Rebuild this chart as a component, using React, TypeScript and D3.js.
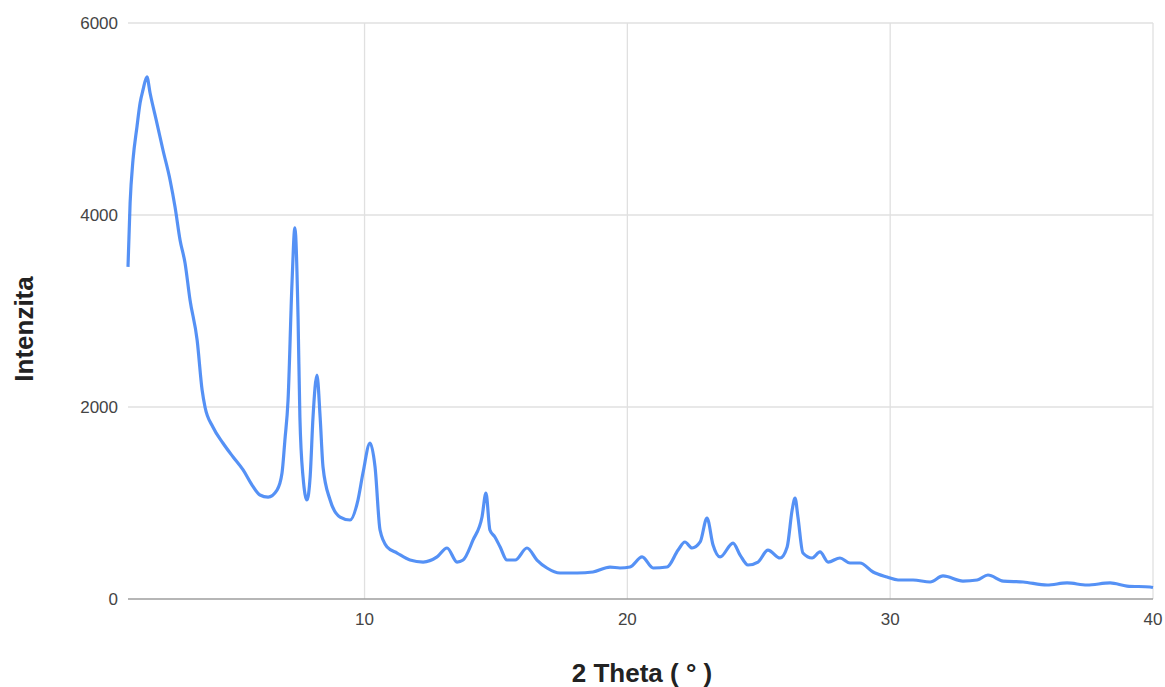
import React from "react";
import * as d3 from "d3";

// 2 Theta (degrees) and intensity
const theta = [
  1.0, 1.08, 1.19, 1.34, 1.46, 1.57, 1.72, 1.84, 2.1, 2.33, 2.6, 2.79, 2.98, 3.17, 3.36, 3.63,
  3.82, 3.93, 4.23, 4.61, 5.0, 5.38, 5.72, 6.02, 6.33, 6.67, 6.86, 6.97, 7.09, 7.24, 7.35, 7.47,
  7.54, 7.66, 7.81, 7.93, 8.04, 8.19, 8.31, 8.42, 8.69, 9.07, 9.45, 9.75, 9.94, 10.21, 10.4, 10.59,
  10.86, 11.24, 11.73, 12.23, 12.76, 13.14, 13.52, 13.75, 14.13, 14.47, 14.62, 14.77, 14.96, 15.16,
  15.42, 15.73, 16.18, 16.56, 16.94, 17.44, 18.09, 18.69, 19.34, 19.72, 20.1, 20.56, 20.98, 21.51,
  21.93, 22.19, 22.46, 22.77, 23.03, 23.26, 23.53, 24.02, 24.29, 24.59, 24.97, 25.35, 25.81, 26.08,
  26.27, 26.38, 26.49, 26.68, 27.03, 27.33, 27.64, 28.09, 28.47, 28.85, 29.35, 29.88, 30.3, 30.87,
  31.52, 32.01, 32.77, 33.31, 33.72, 34.3, 35.06, 35.97, 36.73, 37.49, 38.37, 39.01, 39.89, 40.0,
];
const intensity = [
  3460, 4125, 4573, 4917, 5167, 5302, 5440, 5271, 4958, 4677, 4365, 4083, 3740, 3500, 3115, 2698,
  2177, 2000, 1792, 1625, 1479, 1344, 1187, 1083, 1062, 1135, 1312, 1656, 2073, 3292, 3865, 2938,
  1896, 1271, 1031, 1271, 1896, 2333, 1896, 1375, 1031, 854, 823, 1031, 1312, 1625, 1375, 719,
  542, 479, 406, 385, 438, 531, 385, 406, 615, 854, 1104, 719, 646, 542,
  406, 406, 531, 406, 323, 271, 271, 281, 333, 323, 333, 438, 323, 333,
  510, 594, 531, 594, 844, 563, 438, 583, 458, 354, 385, 510, 427, 542,
  927, 1052, 854, 479, 427, 490, 385, 427, 375, 375, 281, 229, 198, 198,
  177, 240, 187, 198, 250, 187, 177, 146, 167, 146, 167, 135, 125, 120,
];
const yTicks = [0, 2000, 4000, 6000];
const xTicks = [10, 20, 30, 40];

const W = 1165;
const H = 687;
const left = 128;
const right = 1153;
const top = 23;
const bottom = 599;

export default function App() {
  const x = d3.scaleLinear().domain([1, 40]).range([left, right]);
  const y = d3.scaleLinear().domain([0, 6000]).range([bottom, top]);

  const pts: [number, number][] = theta.map((t, i) => [t, intensity[i]]);
  const line = d3
    .line<[number, number]>()
    .x((d) => x(d[0]))
    .y((d) => y(d[1]))
    .curve(d3.curveMonotoneX);

  const font = "'Liberation Sans', Arial, sans-serif";

  return (
    <svg
      width={W}
      height={H}
      style={{ position: "absolute", left: 0, top: 0, background: "#fff" }}
      fontFamily={font}
    >
      {/* grid */}
      <g>
        {yTicks
          .filter((t) => t > 0)
          .map((t) => (
            <line key={"gy" + t} x1={left} x2={right} y1={y(t)} y2={y(t)} stroke="#e0e0e0" strokeWidth={1.3} />
          ))}
        {xTicks.map((t) => (
          <line key={"gx" + t} x1={x(t)} x2={x(t)} y1={top} y2={bottom} stroke="#e0e0e0" strokeWidth={1.3} />
        ))}
      </g>

      {/* data */}
      <path d={line(pts) ?? ""} fill="none" stroke="#4285f4" strokeWidth={3.2} strokeLinejoin="round" opacity={0.9} />

      {/* baseline */}
      <line x1={left} x2={right} y1={y(0)} y2={y(0)} stroke="#9e9e9e" strokeWidth={1.6} />

      {/* y tick labels */}
      {yTicks.map((t) => (
        <text key={"ty" + t} x={118} y={y(t) + 6} textAnchor="end" fontSize={17} fill="#444">
          {t}
        </text>
      ))}

      {/* x tick labels */}
      {xTicks.map((t) => (
        <text key={"tx" + t} x={x(t)} y={625} textAnchor="middle" fontSize={17} fill="#444">
          {t}
        </text>
      ))}

      <text
        transform={`translate(33,${(top + bottom) / 2 + 18}) rotate(-90)`}
        textAnchor="middle"
        fontSize={26}
        fontWeight="bold"
        fill="#222"
      >
        Intenzita
      </text>
      <text x={642} y={682} textAnchor="middle" fontSize={26} fontWeight="bold" fill="#222">
        2 Theta ( ° )
      </text>
    </svg>
  );
}
